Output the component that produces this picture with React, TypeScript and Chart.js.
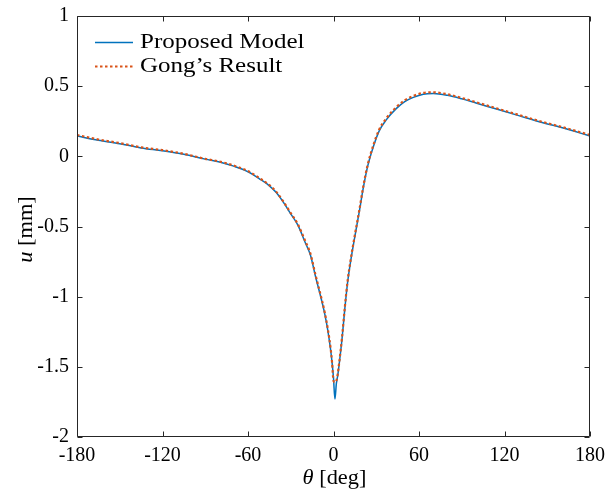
import { useEffect, useRef } from "react";
import { Chart, registerables } from "chart.js";

Chart.register(...registerables);

// Angle around the ring, degrees
const thetaDeg = [
  -180, -165, -150, -135, -120, -105, -90, -80, -70, -60, -52, -45, -40, -35, -30, -25, -20, -16, -13,
  -10, -8, -6, -4, -2, -1, 0, 1, 2, 3, 4, 6, 8, 10, 12, 15, 18, 21, 24, 28, 32, 37, 44, 50, 56, 63, 70,
  80, 90, 100, 115, 130, 145, 160, 180,
];

// Displacement u [mm] from the proposed model
const proposedU = [
  0.145, 0.115, 0.09, 0.06, 0.04, 0.015, -0.02, -0.04, -0.07, -0.11, -0.16, -0.21, -0.26, -0.33, -0.41,
  -0.49, -0.61, -0.71, -0.84, -0.96, -1.04, -1.13, -1.24, -1.38, -1.47, -1.58, -1.73, -1.62, -1.56, -1.48,
  -1.3, -1.08, -0.89, -0.75, -0.57, -0.4, -0.22, -0.07, 0.07, 0.18, 0.26, 0.34, 0.39, 0.42, 0.443, 0.448,
  0.435, 0.41, 0.38, 0.335, 0.29, 0.245, 0.205, 0.145,
];

// Displacement u [mm] reported by Gong
const gongU = [
  0.152, 0.12, 0.094, 0.064, 0.044, 0.018, -0.018, -0.037, -0.066, -0.105, -0.155, -0.205, -0.255, -0.325,
  -0.405, -0.485, -0.6, -0.7, -0.83, -0.95, -1.03, -1.12, -1.23, -1.37, -1.47, -1.6, -1.61, -1.6, -1.55,
  -1.47, -1.29, -1.07, -0.88, -0.74, -0.56, -0.39, -0.21, -0.06, 0.08, 0.19, 0.27, 0.35, 0.4, 0.43, 0.452,
  0.456, 0.442, 0.416, 0.386, 0.34, 0.295, 0.25, 0.21, 0.152,
];

const xTicks = [-180, -120, -60, 0, 60, 120, 180];
const yTicks = [-2, -1.5, -1, -0.5, 0, 0.5, 1];
const seriesLabels = ["Proposed Model", "Gong\u2019s Result"];

const FONT = "'Liberation Serif', 'Times New Roman', serif";
const INK = "#262626";
const BLUE = "#0072BD";
const ORANGE = "#D95319";

type Part = { text: string; italic?: boolean };

// Draws mixed roman/italic text, stretched a little horizontally
function drawParts(
  ctx: CanvasRenderingContext2D,
  parts: Part[],
  x: number,
  y: number,
  size: number,
  align: "left" | "center",
  stretch = 1.12
) {
  const widths = parts.map((p) => {
    ctx.font = `${p.italic ? "italic " : ""}${size}px ${FONT}`;
    return ctx.measureText(p.text).width * stretch;
  });
  const total = widths.reduce((a, b) => a + b, 0);
  let cx = align === "center" ? x - total / 2 : x;
  ctx.textBaseline = "middle";
  ctx.textAlign = "left";
  parts.forEach((p, i) => {
    ctx.font = `${p.italic ? "italic " : ""}${size}px ${FONT}`;
    ctx.save();
    ctx.translate(cx, y);
    ctx.scale(stretch, 1);
    ctx.fillText(p.text, 0, 0);
    ctx.restore();
    cx += widths[i];
  });
}

const framePlugin = {
  id: "frame",
  afterDraw(chart: any) {
    const { ctx, chartArea, scales } = chart;
    const { left, right, top, bottom } = chartArea;
    const xs = scales.x;
    const ys = scales.y;
    ctx.save();
    ctx.strokeStyle = INK;
    ctx.lineWidth = 1;
    const L = Math.round(left) + 0.5;
    const R = Math.round(right) - 0.5;
    const T = Math.round(top) + 0.5;
    const B = Math.round(bottom) - 0.5;
    ctx.beginPath();
    ctx.rect(L, T, R - L, B - T);
    const tick = 5;
    xTicks.forEach((v) => {
      const px = Math.round(xs.getPixelForValue(v)) + 0.5;
      ctx.moveTo(px, B);
      ctx.lineTo(px, B - tick);
      ctx.moveTo(px, T);
      ctx.lineTo(px, T + tick);
    });
    yTicks.forEach((v) => {
      const py = Math.round(ys.getPixelForValue(v)) + 0.5;
      ctx.moveTo(L, py);
      ctx.lineTo(L + tick, py);
      ctx.moveTo(R, py);
      ctx.lineTo(R - tick, py);
    });
    ctx.stroke();

    // axis titles
    ctx.fillStyle = "#000";
    drawParts(ctx, [{ text: "\u03B8", italic: true }, { text: " [deg]" }], (left + right) / 2 + 1, 479, 20, "center");
    ctx.save();
    ctx.translate(27, (top + bottom) / 2 + 3);
    ctx.rotate(-Math.PI / 2);
    drawParts(ctx, [{ text: "u", italic: true }, { text: " [mm]" }], 0, 0, 20, "center");
    ctx.restore();

    // legend
    const lx = left + 18;
    const ly = top + 26;
    chart.data.datasets.forEach((ds: any, i: number) => {
      const y = ly + i * 24;
      ctx.save();
      ctx.strokeStyle = ds.borderColor;
      ctx.lineWidth = ds.borderWidth;
      ctx.setLineDash(ds.borderDash || []);
      ctx.beginPath();
      ctx.moveTo(lx, y + 0.5);
      ctx.lineTo(lx + 38, y + 0.5);
      ctx.stroke();
      ctx.restore();
      ctx.fillStyle = "#000";
      drawParts(ctx, [{ text: ds.label }], lx + 45, y, 21, "left", 1.19);
    });
    ctx.restore();
  },
};

export default function App() {
  const ref = useRef<HTMLCanvasElement>(null);

  useEffect(() => {
    if (!ref.current) return;
    Chart.defaults.font.family = FONT;
    const chart = new Chart(ref.current, {
      type: "line",
      data: {
        datasets: [
          {
            label: seriesLabels[0],
            data: thetaDeg.map((t, i) => ({ x: t, y: proposedU[i] })),
            borderColor: BLUE,
            borderWidth: 1.5,
            pointRadius: 0,
            cubicInterpolationMode: "monotone",
            order: 1,
          },
          {
            label: seriesLabels[1],
            data: thetaDeg.map((t, i) => ({ x: t, y: gongU[i] })),
            borderColor: ORANGE,
            borderWidth: 2.2,
            borderDash: [2.5, 2.5],
            pointRadius: 0,
            cubicInterpolationMode: "monotone",
            order: 0,
          },
        ],
      },
      options: {
        animation: false,
        responsive: false,
        devicePixelRatio: 1,
        layout: { padding: { left: 0, top: 16, right: 16, bottom: 0 } },
        plugins: { legend: { display: false }, tooltip: { enabled: false } },
        scales: {
          x: {
            type: "linear",
            min: -180,
            max: 180,
            grid: { display: false, drawTicks: false },
            border: { display: false },
            afterBuildTicks: (s: any) => {
              s.ticks = xTicks.map((v) => ({ value: v }));
            },
            afterFit: (s: any) => {
              s.height = 57;
              s.paddingLeft = 0;
              s.paddingRight = 0;
            },
            ticks: {
              color: "#000",
              font: { size: 20, family: FONT },
              padding: 7,
              maxRotation: 0,
              autoSkip: false,
              callback: (v: any) => String(v),
            },
          },
          y: {
            type: "linear",
            min: -2,
            max: 1,
            grid: { display: false, drawTicks: false },
            border: { display: false },
            afterBuildTicks: (s: any) => {
              s.ticks = yTicks.map((v) => ({ value: v }));
            },
            afterFit: (s: any) => {
              s.width = 77;
              s.paddingTop = 0;
              s.paddingBottom = 0;
            },
            ticks: {
              color: "#000",
              font: { size: 20, family: FONT },
              padding: 8,
              callback: (v: any) => String(v),
            },
          },
        },
      },
      plugins: [framePlugin],
    } as any);
    return () => chart.destroy();
  }, []);

  return (
    <canvas
      ref={ref}
      width={606}
      height={494}
      style={{ position: "absolute", left: 0, top: 0, width: 606, height: 494 }}
    />
  );
}
